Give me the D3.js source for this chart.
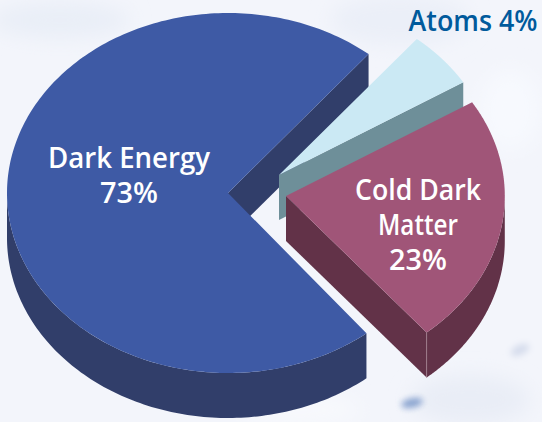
<!DOCTYPE html>
<html><head><meta charset="utf-8">
<script src="https://cdn.jsdelivr.net/npm/d3@7/dist/d3.min.js"></script>
<style>html,body{margin:0;padding:0;background:#f3f5fb;overflow:hidden}svg{display:block}</style>
</head><body><svg id="c" width="542" height="422"></svg>
<script>
const categories = ["Atoms", "Cold Dark Matter", "Dark Energy"];
const percents = [4, 23, 73];
const drawnShares = [5.22, 22.7, 72.08];
const topColors = ["#cbe9f4", "#a05578", "#3e5aa5"];
const wallColors = ["#6e8f99", "#623248", "#313e6a"];
const centerX = [279, 286, 228];
const centerY = [175, 196, 193];
const radiusFactor = [0.98, 0.99, 1];
const startGapDeg = [0, 0, 1.2];
const labelLines = [["Atoms 4%"], ["Cold Dark", "Matter", "23%"], ["Dark Energy", "73%"]];
const labelX = [473, 418, 129];
const labelY = [31, 200, 168];
const labelW = [[129], [126, 80, 58], [162, 58]];
const labelGap = [0, 35, 35];
const labelColors = ["#005a9c", "#ffffff", "#ffffff"];
const drawOrder = [2, 0, 1];

const rx = 221, ry = 180, depth = 45;
const W = 542, H = 422;
const svg = d3.select("#c");
const defs = svg.append("defs");
defs.append("filter").attr("id", "b").attr("x", "-100%").attr("y", "-100%").attr("width", "300%").attr("height", "300%")
  .append("feGaussianBlur").attr("stdDeviation", 3);
defs.append("filter").attr("id", "b2").attr("x", "-50%").attr("y", "-50%").attr("width", "200%").attr("height", "200%")
  .append("feGaussianBlur").attr("stdDeviation", 10);

svg.append("rect").attr("width", W).attr("height", H).attr("fill", "#f3f5fb");
const bg = svg.append("g");
[[60,20,70,18,"#e9eef7"],[400,20,70,25,"#ebeff8"],[510,110,30,40,"#f7f9fe"],[470,400,60,25,"#e9edf6"],[300,410,60,14,"#f8f9fd"]]
  .forEach(d => bg.append("ellipse").attr("cx", d[0]).attr("cy", d[1]).attr("rx", d[2]).attr("ry", d[3]).attr("fill", d[4]).attr("filter", "url(#b2)"));
bg.append("ellipse").attr("cx", 412).attr("cy", 403).attr("rx", 11).attr("ry", 4.5).attr("transform", "rotate(-12 412 403)").attr("fill", "#7f9bcb").attr("filter", "url(#b)").attr("opacity", 0.95);
bg.append("ellipse").attr("cx", 520).attr("cy", 350).attr("rx", 10).attr("ry", 5).attr("transform", "rotate(-25 520 350)").attr("fill", "#d5dcec").attr("filter", "url(#b)");

const xs = d3.scaleLinear().domain([-1, 1]).range([-rx, rx]);
const ys = d3.scaleLinear().domain([-1, 1]).range([-ry, ry]);
const pie = d3.pie().sort(null).startAngle(39.5 * Math.PI / 180).endAngle((39.5 + 360) * Math.PI / 180);
const arcs = pie(drawnShares);
const line = d3.line();

drawOrder.forEach(i => {
  const arc = arcs[i];
  const f = radiusFactor[i];
  const px = (a) => f * xs(Math.sin(a));
  const py = (a) => f * ys(-Math.cos(a));
  const s = arc.startAngle + startGapDeg[i] * Math.PI / 180;
  const e = arc.endAngle;
  const g = svg.append("g").attr("transform", `translate(${centerX[i]},${centerY[i]})`);
  const a0 = Math.max(s, Math.PI / 2);
  const a1 = Math.min(e, 3 * Math.PI / 2);
  if (a1 > a0) {
    const samples = d3.range(0, 121).map(k => a0 + (a1 - a0) * k / 120);
    const pts = samples.map(a => [px(a), py(a)])
      .concat(samples.slice().reverse().map(a => [px(a), py(a) + depth]));
    g.append("path").attr("d", line(pts) + "Z").attr("fill", wallColors[i]);
  }
  g.append("path").attr("d", line([[0, 0], [px(e), py(e)], [px(e), py(e) + depth], [0, depth]]) + "Z").attr("fill", wallColors[i]);
  const top = d3.range(0, 241).map(k => s + (e - s) * k / 240).map(a => [px(a), py(a)]);
  g.append("path").attr("d", line([[0, 0]].concat(top)) + "Z").attr("fill", topColors[i]);
  if (i === 1) {
    g.append("line").attr("x1", px(e)).attr("x2", px(e)).attr("y1", py(e)).attr("y2", py(e) + depth)
      .attr("stroke", "#a58392").attr("stroke-width", 0.8);
  }
});

const txt = svg.append("g").attr("font-family", "'Open Sans', 'DejaVu Sans', sans-serif").attr("font-weight", 600).attr("font-size", 28).attr("text-anchor", "middle");
labelLines.forEach((lines, i) => {
  lines.forEach((s, j) => {
    txt.append("text").attr("x", labelX[i]).attr("y", labelY[i] + j * labelGap[i])
      .attr("fill", labelColors[i]).attr("textLength", labelW[i][j]).attr("lengthAdjust", "spacingAndGlyphs").text(s);
  });
});
</script></body></html>
